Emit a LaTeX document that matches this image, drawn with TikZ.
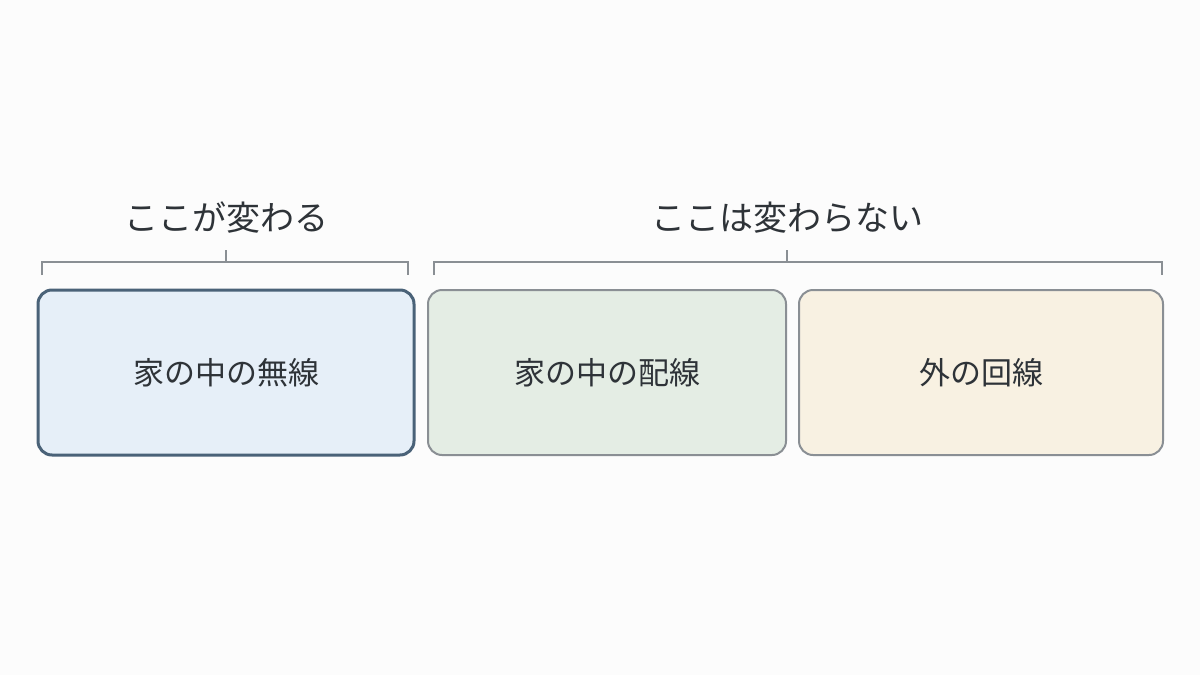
\documentclass[tikz,border=0pt]{standalone}
\usepackage{fontspec}
\newfontfamily\cjk{Noto Sans CJK JP}
\begin{document}
\begin{tikzpicture}[x=1pt,y=-1pt,
  box/.style={draw=boxgray,line width=2pt,rounded corners=14pt,minimum height=165pt,inner sep=0pt,text=txt,font=\cjk\fontsize{31}{36}\selectfont},
  lbl/.style={text=txt,font=\cjk\fontsize{34}{40}\selectfont,inner sep=0pt},
  br/.style={draw=boxgray,line width=1.6pt}]
\definecolor{txt}{HTML}{2E3338}
\definecolor{boxgray}{HTML}{8A8F94}
\definecolor{bluebd}{HTML}{4A6278}
\path[fill={rgb,255:red,252;green,252;blue,252}] (0,0) rectangle (1200,675);
\useasboundingbox (0,0) rectangle (1200,675);
\node[box,draw=bluebd,line width=3pt,fill={rgb,255:red,230;green,239;blue,248},minimum width=376pt] (a) at (226,372.5) {家の中の無線};
\node[box,fill={rgb,255:red,228;green,237;blue,228},minimum width=358pt] (b) at (607,372.5) {家の中の配線};
\node[box,fill={rgb,255:red,248;green,241;blue,226},minimum width=364pt] (c) at (981,372.5) {外の回線};
\node[lbl] (l1) at (226,218) {ここが変わる};
\node[lbl] (l2) at (787,218) {ここは変わらない};
\draw[br] (42,275) -- (42,262) -- (408,262) -- (408,275);
\draw[br] (226,262) -- (226,250);
\draw[br] (434,275) -- (434,262) -- (1162,262) -- (1162,275);
\draw[br] (787,262) -- (787,250);
\end{tikzpicture}
\end{document}
